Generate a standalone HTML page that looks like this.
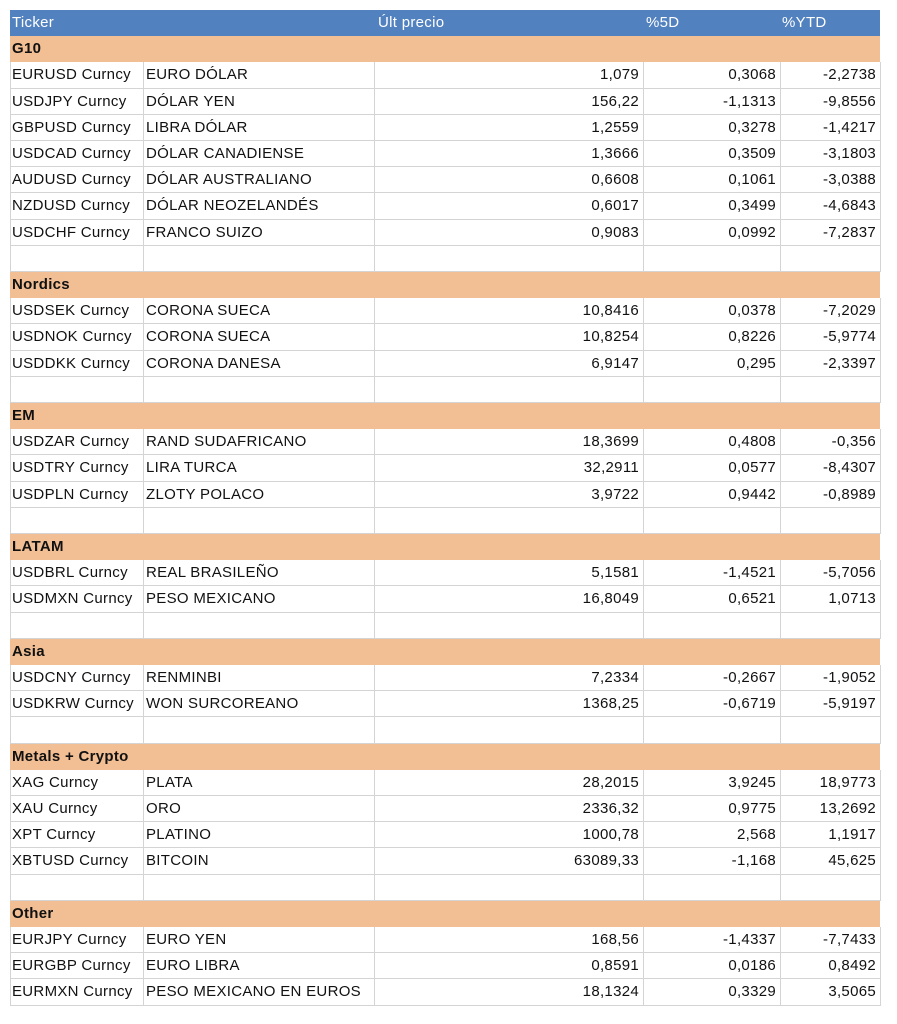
<!DOCTYPE html>
<html><head><meta charset="utf-8"><style>
body{margin:0;width:897px;height:1024px;background:#fff;position:relative;overflow:hidden;font-family:"Liberation Sans",sans-serif;}
.c{position:absolute;font-size:15px;letter-spacing:0.3px;color:#111;white-space:nowrap;line-height:26px;overflow:hidden}
.band{position:absolute;left:10px;width:870px}
.vl{position:absolute;width:1px;background:#d4d4d4}
.hl{position:absolute;left:10px;width:870px;height:1px;background:#d4d4d4}
</style></head><body>
<div id="t"></div>
<script>
const rows=[
["G10"],
["EURUSD Curncy","EURO DÓLAR","1,079","0,3068","-2,2738"],
["USDJPY Curncy","DÓLAR YEN","156,22","-1,1313","-9,8556"],
["GBPUSD Curncy","LIBRA DÓLAR","1,2559","0,3278","-1,4217"],
["USDCAD Curncy","DÓLAR CANADIENSE","1,3666","0,3509","-3,1803"],
["AUDUSD Curncy","DÓLAR AUSTRALIANO","0,6608","0,1061","-3,0388"],
["NZDUSD Curncy","DÓLAR NEOZELANDÉS","0,6017","0,3499","-4,6843"],
["USDCHF Curncy","FRANCO SUIZO","0,9083","0,0992","-7,2837"],
[],
["Nordics"],
["USDSEK Curncy","CORONA SUECA","10,8416","0,0378","-7,2029"],
["USDNOK Curncy","CORONA SUECA","10,8254","0,8226","-5,9774"],
["USDDKK Curncy","CORONA DANESA","6,9147","0,295","-2,3397"],
[],
["EM"],
["USDZAR Curncy","RAND SUDAFRICANO","18,3699","0,4808","-0,356"],
["USDTRY Curncy","LIRA TURCA","32,2911","0,0577","-8,4307"],
["USDPLN Curncy","ZLOTY POLACO","3,9722","0,9442","-0,8989"],
[],
["LATAM"],
["USDBRL Curncy","REAL BRASILEÑO","5,1581","-1,4521","-5,7056"],
["USDMXN Curncy","PESO MEXICANO","16,8049","0,6521","1,0713"],
[],
["Asia"],
["USDCNY Curncy","RENMINBI","7,2334","-0,2667","-1,9052"],
["USDKRW Curncy","WON SURCOREANO","1368,25","-0,6719","-5,9197"],
[],
["Metals + Crypto"],
["XAG Curncy","PLATA","28,2015","3,9245","18,9773"],
["XAU Curncy","ORO","2336,32","0,9775","13,2692"],
["XPT Curncy","PLATINO","1000,78","2,568","1,1917"],
["XBTUSD Curncy","BITCOIN","63089,33","-1,168","45,625"],
[],
["Other"],
["EURJPY Curncy","EURO YEN","168,56","-1,4337","-7,7433"],
["EURGBP Curncy","EURO LIBRA","0,8591","0,0186","0,8492"],
["EURMXN Curncy","PESO MEXICANO EN EUROS","18,1324","0,3329","3,5065"]
];
const T=document.getElementById('t');
const top0=10,rh=26.2,cols=[10,143,374,643,780,880];
function add(html){const d=document.createElement('div');d.innerHTML=html;const e=d.firstChild;T.appendChild(e);return e;}
let h=add(`<div class="band" style="top:${top0}px;height:26px;background:#5281bf"></div>`);


const hd=[["Ticker",12,"left"],["Últ precio",378,"left"],["%5D",646,"left"],["%YTD",782,"left"]];
hd.forEach(x=>{const e=add(`<div class="c" style="top:${top0}px;left:${x[1]}px;color:#fff">${x[0]}</div>`);

});
rows.forEach((r,i)=>{
 const y=top0+rh*(i+1);
 if(r.length==1){
  const b=add(`<div class="band" style="top:${y}px;height:${rh}px;background:#f2bf95"></div>`);
  
  
  const t=add(`<div class="c" style="top:${y}px;left:12px;font-weight:bold">${r[0]}</div>`);
  
  
 } else {
  for(let k=0;k<6;k++){const v=add(`<div class="vl" style="left:${cols[k]}px;top:${y}px;height:${rh}px"></div>`);
   
   }
  const l=add(`<div class="hl" style="top:${y+rh-1}px"></div>`);
  
  
  if(r.length){
   const a=add(`<div class="c" style="top:${y}px;left:12px;width:131px">${r[0]}</div>`);
   
   
   const b=add(`<div class="c" style="top:${y}px;left:146px">${r[1]}</div>`);
   
   
   [2,3,4].forEach(k=>{const e=add(`<div class="c" style="top:${y}px;left:${cols[k]}px;width:${cols[k+1]-cols[k]-4}px;text-align:right">${r[k]}</div>`);
    
    });
  }
 }
});
</script>
</body></html>
